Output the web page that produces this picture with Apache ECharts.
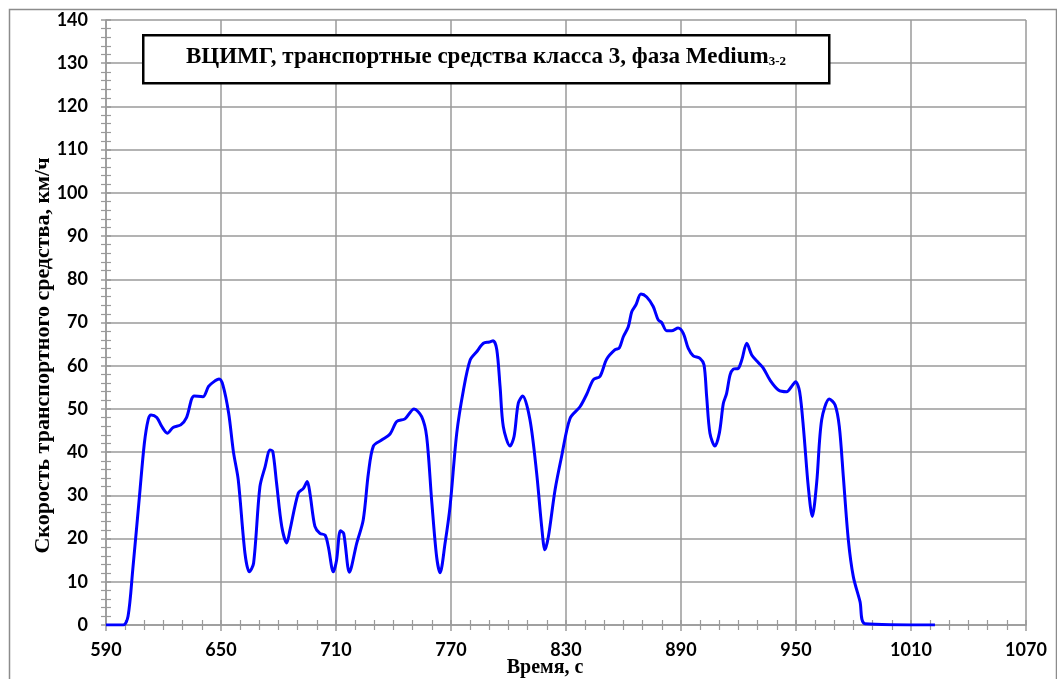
<!DOCTYPE html>
<html>
<head>
<meta charset="utf-8">
<script src="https://cdn.jsdelivr.net/npm/echarts@6/dist/echarts.min.js"></script>
<style>
	html, body { margin: 0; padding: 0; width: 100%; height: 100%; background: #fff; }
	#chartBox { width: 1057px; height: 679px; }
</style>
</head>
<body>
<div id="chartBox"></div>
<script>
	// время, с
	var timeSec = [590, 599, 601.5, 604, 607.5, 610, 612, 613.5, 616.5, 619, 622, 625, 629, 632, 636, 640.5, 643.5, 646, 649, 651,
		654, 656.5, 659, 662.5, 664.8, 667, 670.3, 673, 675.6, 677, 679, 681.7, 684.3, 686, 690.3, 693, 695, 696.4, 699, 701.6,
		704.3, 706, 708.6, 710.3, 712.3, 714, 717, 720.8, 724.2, 726.9, 729.5, 733.8, 738.2, 741.7, 746, 750.7, 754.7, 757.3, 759.9, 762.5,
		764.3, 766.9, 769.5, 773, 776.5, 780, 783.5, 786.9, 790, 792, 793.9, 795.6, 797.3, 800.8, 802.9, 805.1, 807.4, 811.2, 814.7, 817.3,
		819, 820.8, 824.3, 827.7, 832.1, 837.3, 840.8, 844.3, 847.7, 851.2, 855.6, 857.8, 859.9, 862.5, 864.3, 866.5, 869.1, 872.1, 875.5, 878.1,
		879.9, 882.5, 885.1, 888.5, 891.2, 893.8, 896.4, 899.9, 902, 903.4, 905.1, 907.7, 910, 912.1, 913.8, 915.6, 917.3, 919.9, 921.7, 924.3,
		926.9, 930.4, 933, 936.4, 940.8, 945.1, 947.7, 949.8, 951.9, 954, 956.4, 958.5, 960.8, 963.4, 967.4, 970.4, 972.6, 974.7, 977.3, 979.9,
		983.4, 986, 1022.5];
	// скорость, км/ч
	var speedKmh = [0, 0, 2, 13, 30, 42, 47.5, 48.6, 48, 46, 44.4, 45.7, 46.3, 48, 53, 52.8, 55.2, 56.2, 56.9, 55.5,
		49, 40, 33.6, 16.6, 12.3, 14.3, 32, 36.6, 40.5, 40.2, 32.8, 22.8, 19, 22, 30.5, 31.6, 33.2, 30.5, 22.8, 21.2,
		20.8, 18.1, 12.3, 15, 21.8, 21.2, 12.2, 18.9, 24.3, 35.1, 41.4, 42.8, 44.2, 47.1, 47.7, 50, 48.2, 43.6, 28.9, 15.8,
		12.1, 18.9, 27.4, 44.4, 54.4, 61.3, 63.3, 65.2, 65.5, 65.8, 63.7, 55.2, 45.9, 41.4, 43.6, 51.3, 53, 47.5, 35.1, 22.8,
		17.4, 20.4, 31.3, 39, 47.8, 50.5, 53.4, 56.8, 57.5, 61.5, 63.7, 64.1, 66.7, 69, 72.5, 74.1, 76.6, 75.9, 73.7, 70.6,
		70, 68.1, 68.1, 68.7, 67.5, 64, 62.3, 61.7, 60.2, 52.8, 44.4, 41.4, 44.4, 51.3, 53.6, 57.9, 59.2, 59.4, 61.3, 65.2,
		62.5, 60.7, 59.4, 56.7, 54.4, 54, 55.2, 56.3, 54, 45, 32, 25.1, 33, 47.5, 52.3, 50.9, 45.9, 34.3, 19.7, 11.2,
		5.4, 0.3, 0];

	var titleText = 'ВЦИМГ, транспортные средства класса 3, фаза Medium';
	var titleSub = '3-2';

	var points = [];
	for (var i = 0; i < timeSec.length; i++) {
		points.push([timeSec[i], speedKmh[i]]);
	}

	var chartLine = echarts.init(document.getElementById('chartBox'));
	var labelFont = { color: '#000', fontFamily: 'Lato', fontWeight: 'bold', fontSize: 18 };
	var gridColor = '#9a9a9a';
	var plainNum = function (v) { return String(v); };

	var option = {
		animation: false,
		backgroundColor: '#fff',
		grid: { left: 106, right: 31, top: 20, bottom: 54, outerBoundsMode: 'none', containLabel: false },
		xAxis: [{
			type: 'value',
			min: 590, max: 1070, interval: 60,
			name: 'Время, с',
			nameLocation: 'middle',
			nameGap: 33,
			nameMoveOverlap: false,
			nameTextStyle: { color: '#000', fontFamily: 'Liberation Serif', fontWeight: 'bold', fontSize: 20, padding: [0, 42, 0, 0] },
			axisLine: { lineStyle: { color: gridColor, width: 1.5 } },
			axisTick: { length: 6, lineStyle: { color: gridColor, width: 1.5 } },
			minorTick: { show: true, splitNumber: 6, length: 5, lineStyle: { color: gridColor, width: 1.2 } },
			axisLabel: Object.assign({ margin: 16, formatter: plainNum }, labelFont),
			splitLine: { lineStyle: { color: gridColor, width: 1.5 } }
		}, {
			type: 'value',
			min: 590, max: 1070, interval: 60,
			position: 'bottom',
			axisLine: { show: false },
			axisTick: { inside: true, length: 5, lineStyle: { color: gridColor, width: 1.5 } },
			minorTick: { show: true, splitNumber: 6, length: 5, lineStyle: { color: gridColor, width: 1.2 } },
			axisLabel: { show: false },
			splitLine: { show: false }
		}],
		yAxis: [{
			type: 'value',
			min: 0, max: 140, interval: 10,
			name: 'Скорость транспортного средства, км/ч',
			nameLocation: 'middle',
			nameGap: 52,
			nameMoveOverlap: false,
			nameTextStyle: { color: '#000', fontFamily: 'Liberation Serif', fontWeight: 'bold', fontSize: 22, padding: [0, 66, 0, 0] },
			axisLine: { show: true, lineStyle: { color: gridColor, width: 1.5 } },
			axisTick: { show: true, length: 5, lineStyle: { color: gridColor, width: 1.5 } },
			minorTick: { show: true, splitNumber: 5, length: 5, lineStyle: { color: gridColor, width: 1.2 } },
			axisLabel: Object.assign({ margin: 18, formatter: plainNum }, labelFont),
			splitLine: { lineStyle: { color: gridColor, width: 1.5 } }
		}, {
			type: 'value',
			min: 0, max: 140, interval: 10,
			position: 'left',
			axisLine: { show: false },
			axisTick: { show: true, inside: true, length: 5, lineStyle: { color: gridColor, width: 1.5 } },
			minorTick: { show: true, splitNumber: 5, length: 5, lineStyle: { color: gridColor, width: 1.2 } },
			axisLabel: { show: false },
			splitLine: { show: false }
		}],
		graphic: [{
			type: 'rect',
			left: 7, top: 7,
			shape: { width: 1047, height: 690 },
			style: { fill: 'none', stroke: '#8c8c8c', lineWidth: 1.5 },
			silent: true
		}, {
			type: 'rect',
			left: 142, top: 34,
			shape: { width: 686, height: 48 },
			style: { fill: '#fff', stroke: '#000', lineWidth: 2.5 },
			z: 10
		}, {
			type: 'text',
			x: 486, y: 57,
			z: 11,
			style: {
				text: '{m|' + titleText + '}{s|' + titleSub + '}',
				align: 'center',
				verticalAlign: 'middle',
				rich: {
					m: { fontFamily: 'Liberation Serif', fontWeight: 'bold', fontSize: 23, fill: '#000' },
					s: { fontFamily: 'Liberation Serif', fontWeight: 'bold', fontSize: 13, fill: '#000', padding: [10, 0, 0, 0] }
				}
			}
		}],
		series: [{
			type: 'line',
			data: points,
			smooth: 0.3,
			showSymbol: false,
			lineStyle: { color: '#0000ff', width: 3 }
		}]
	};
	chartLine.setOption(option);
</script>
</body>
</html>
